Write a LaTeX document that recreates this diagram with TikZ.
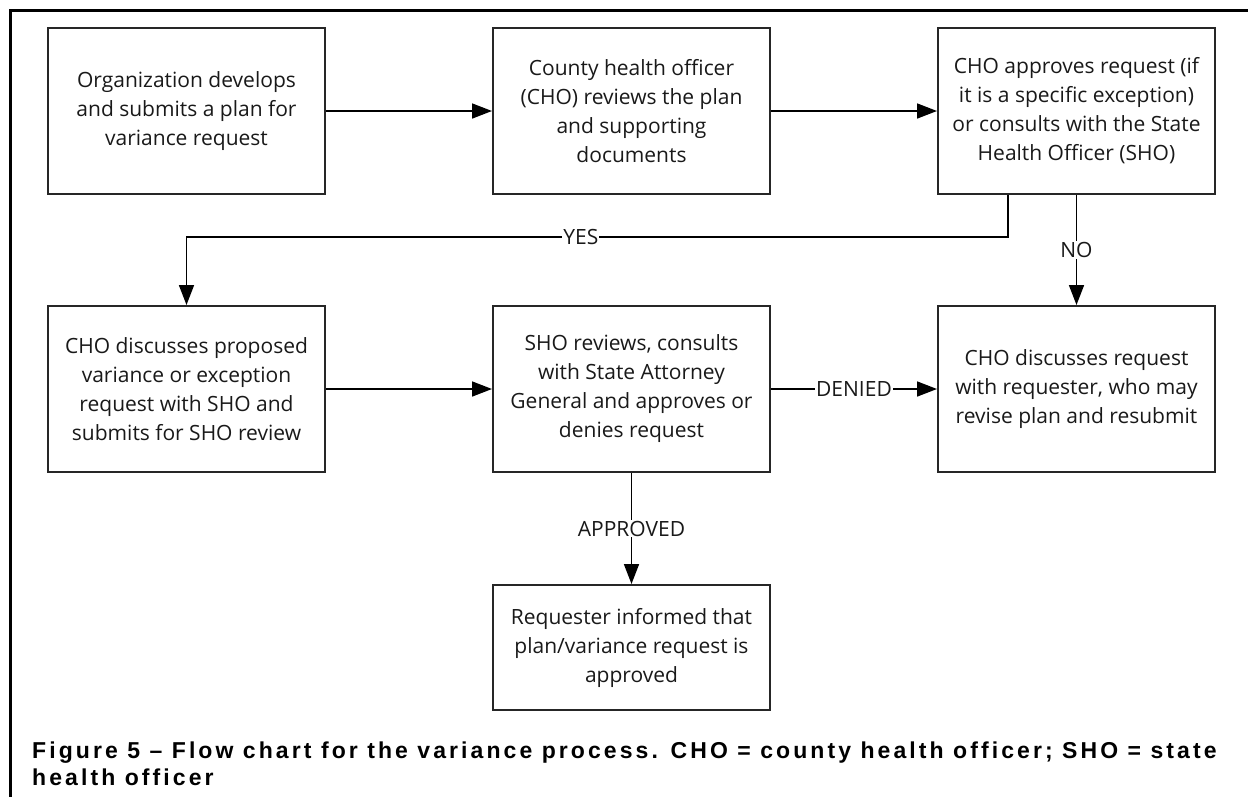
\documentclass[tikz,border=0pt]{standalone}
\usepackage{fontspec}
\setmainfont{Open Sans}
\newfontfamily\capfont[LetterSpace=13.4]{Liberation Sans}
\usetikzlibrary{positioning,arrows.meta}

\begin{document}
\begin{tikzpicture}[block/.style={draw=black!85,line width=2pt,rectangle,minimum width=277pt,minimum height=166pt,
				inner sep=0pt,align=center,text=black!90,font=\fontsize{21}{29}\selectfont},
				lbl/.style={fill=white,inner sep=1pt,text=black!90,font=\fontsize{21}{29}\selectfont},
				flow/.style={line width=1.7pt,-{Triangle[length=20pt,width=15pt]}},
				node distance=110pt and 166pt]
				\useasboundingbox (-186.5pt,111pt) rectangle (1061.5pt,-685pt);
				\node[block] (ORG)                       {Organization develops\\and submits a plan for\\variance request};
				\node[block] (REV) [right=of ORG]        {County health officer\\(CHO) reviews the plan\\and supporting\\documents};
				\node[block] (APP) [right=of REV]        {CHO approves request (if\\it is a specific exception)\\or consults with the State\\Health Officer (SHO)};
				\node[block] (DIS) [below=of ORG]        {CHO discusses proposed\\variance or exception\\request with SHO and\\submits for SHO review};
				\node[block] (SHO) [right=of DIS]        {SHO reviews, consults\\with State Attorney\\General and approves or\\denies request};
				\node[block] (RES) [right=of SHO]        {CHO discusses request\\with requester, who may\\revise plan and resubmit};
				\node[block,minimum height=125pt] (INF) [below=111pt of SHO] {Requester informed that\\plan/variance request is\\approved};
				\node[anchor=north west,align=left,inner sep=0pt,font=\fontsize{23}{27}\selectfont\capfont\bfseries] (CAP)
					at (-154.5pt,-631pt) {Figure 5 – Flow chart for the variance process.  CHO = county health officer; SHO = state\\health officer};
				
				\draw[line width=3pt] (1070pt,101pt) -- (-175.5pt,101pt) -- (-175.5pt,-700pt);
				\draw[flow] (ORG) -- (REV);
				\draw[flow] (REV) -- (APP);
				\draw[flow] (DIS) -- (SHO);
				\draw[flow] (SHO) -- node[lbl] {DENIED} (RES);
				\draw[flow] (SHO) -- node[lbl] {APPROVED} (INF);
				\draw[flow] (APP) -- node[lbl] {NO} (RES);
				\draw[flow] ([xshift=-68.5pt]APP.south) -- ++(0,-42pt) -| node[lbl,pos=0.26] {YES} (DIS.north);
			\end{tikzpicture}
\end{document}
